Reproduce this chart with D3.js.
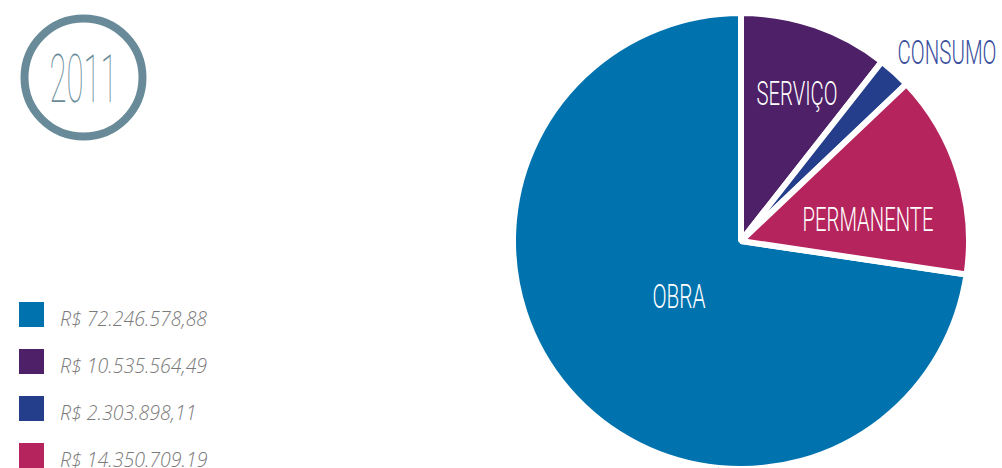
<!DOCTYPE html>
<html>
<head>
<meta charset="utf-8">
<script src="https://cdn.jsdelivr.net/npm/d3@7"></script>
<style>
  body { margin: 0; background: #fff; }
  svg { display: block; }
</style>
</head>
<body>
<div id="chart"></div>
<script>
// data
var categories = ["OBRA", "SERVIÇO", "CONSUMO", "PERMANENTE"];
var values = [72246578.88, 10535564.49, 2303898.11, 14350709.19];
var valueLabels = ["R$ 72.246.578,88", "R$ 10.535.564,49", "R$ 2.303.898,11", "R$ 14.350.709.19"];
var colors = ["#0072ae", "#4e2067", "#243e8c", "#b5245c"];
var year = "2011";

// size
const width = 1002, height = 468;

var svg = d3.select("#chart").append("svg")
    .attr("width", width)
    .attr("height", height);

// year badge
var badge = svg.append("g").attr("transform", "translate(83.5,77.5)");
badge.append("circle")
    .attr("r", 59)
    .attr("fill", "none")
    .attr("stroke", "#698b99")
    .attr("stroke-width", 8);
badge.append("text")
    .attr("x", -34)
    .attr("y", 24)
    .attr("textLength", 68)
    .attr("lengthAdjust", "spacingAndGlyphs")
    .attr("font-family", "Roboto")
    .attr("font-weight", 100)
    .attr("font-size", 67)
    .attr("fill", "#698b99")
    .text(year);

// legend
var legend = svg.append("g").attr("transform", "translate(19,302)");
var rowH = 47;
legend.selectAll("rect")
    .data(categories)
    .enter()
    .append("rect")
    .attr("x", 0)
    .attr("y", function(d, i){ return i * rowH; })
    .attr("width", 25)
    .attr("height", 25)
    .attr("fill", function(d, i){ return colors[i]; });
legend.selectAll("text")
    .data(valueLabels)
    .enter()
    .append("text")
    .attr("x", 41)
    .attr("y", function(d, i){ return i * rowH + 24; })
    .attr("font-family", "Open Sans")
    .attr("font-style", "italic")
    .attr("font-weight", 300)
    .attr("font-size", 19.5)
    .attr("fill", "#7a7a7a")
    .text(function(d){ return d; });

// pie
var cx = 741, cy = 241, radius = 228;
var total = d3.sum(values);
var startA = 2 * Math.PI * (1 - values[0] / total);
var pie = d3.pie().sort(null).value(function(d){ return d; })
    .startAngle(startA).endAngle(startA + 2 * Math.PI);
var arc = d3.arc().innerRadius(0).outerRadius(radius);
var arcs = pie(values);

var gp = svg.append("g").attr("transform", "translate(" + cx + "," + cy + ")");
gp.selectAll("path")
    .data(arcs)
    .enter()
    .append("path")
    .attr("d", arc)
    .attr("fill", function(d, i){ return colors[i]; })
    .attr("stroke", "#fff")
    .attr("stroke-width", 6)
    .attr("stroke-linejoin", "bevel");

// slice labels (offsets from pie centre, text width, colour)
var labelLayout = [
    {dx: -62, dy: 67, w: 53, fill: "#ffffff"},
    {dx: 56, dy: -136, w: 81, fill: "#ffffff"},
    {dx: 206, dy: -177, w: 99, fill: "#3b4f9e"},
    {dx: 127, dy: -10, w: 131, fill: "#ffffff"}
];
gp.selectAll("text.lbl")
    .data(categories)
    .enter()
    .append("text")
    .attr("class", "lbl")
    .attr("x", function(d, i){ return labelLayout[i].dx - labelLayout[i].w / 2; })
    .attr("y", function(d, i){ return labelLayout[i].dy; })
    .attr("textLength", function(d, i){ return labelLayout[i].w; })
    .attr("lengthAdjust", "spacingAndGlyphs")
    .attr("font-family", "Roboto")
    .attr("font-weight", 300)
    .attr("font-size", 34)
    .attr("fill", function(d, i){ return labelLayout[i].fill; })
    .text(function(d){ return d; });
</script>
</body>
</html>
